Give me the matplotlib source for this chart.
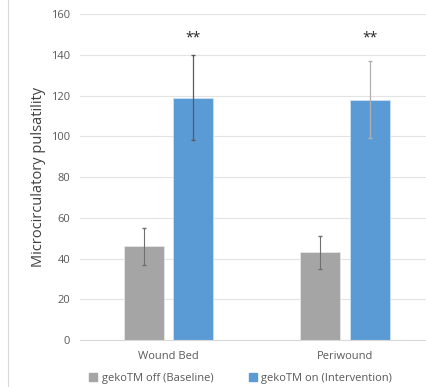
import numpy as np
import matplotlib.pyplot as plt
from matplotlib.lines import Line2D

# Datos
categorias = ['Wound Bed', 'Periwound']
off_vals = [46, 43]
off_err = [9, 8]
on_vals = [119, 118]
on_err = [21, 19]
series = ['gekoTM off (Baseline)', 'gekoTM on (Intervention)']
marca = '**'
marca_y = 148

plt.rcParams['font.family'] = ['Open Sans', 'DejaVu Sans']

fig = plt.figure(figsize=(4.26, 3.87), dpi=100)
ax = fig.add_axes([0.188, 0.1214, 0.83, 0.8424])

x = np.arange(len(categorias))
w = 0.226
d = 0.141

ax.bar(x - d, off_vals, w, color='#a5a5a5', edgecolor='#e6e6e6', lw=0.6, zorder=2)
ax.bar(x + d, on_vals, w, color='#5b9bd5', edgecolor='#cfe0f2', lw=0.6, zorder=2)

# Barras de error
ax.errorbar(x - d, off_vals, yerr=off_err, fmt='none', ecolor='#6f6f6f', elinewidth=0.8, capsize=1.5, zorder=3)
ecols = ['#5a5a5a', '#b0b0b0']
for i in range(len(categorias)):
    ax.errorbar(x[i] + d, on_vals[i], yerr=on_err[i], fmt='none', ecolor=ecols[i], elinewidth=0.9, capsize=1.5, zorder=3)
    ax.text(x[i] + d, marca_y, marca, ha='center', va='center', fontsize=10, color='#222222')

ax.set_ylim(0, 160)
ax.set_xlim(-0.5, 1.5)
ax.set_yticks(range(0, 161, 20))
ax.set_xticks(x)
ax.set_xticklabels(categorias)
ax.yaxis.grid(True, color='#e3e3e3', lw=0.8, zorder=0)
ax.set_axisbelow(True)
ax.tick_params(axis='both', length=0, labelsize=8, colors='#595959', pad=8)
ax.tick_params(axis='y', pad=7)
for s in ['top', 'right', 'left']:
    ax.spines[s].set_visible(False)
ax.spines['bottom'].set_color('#d9d9d9')
ax.set_ylabel('Microcirculatory pulsatility', fontsize=10.5, color='#404040', labelpad=4)

# Borde izquierdo del marco
fig.add_artist(Line2D([8 / 426, 8 / 426], [0, 1], color='#d9d9d9', lw=0.8))

handles = [plt.Rectangle((0, 0), 1, 1, color='#a5a5a5'), plt.Rectangle((0, 0), 1, 1, color='#5b9bd5')]
fig.legend(handles, series, loc='center', bbox_to_anchor=(0.565, 0.022), ncol=2, frameon=False,
           fontsize=8, labelcolor='#595959', handlelength=0.7, handleheight=0.7, handletextpad=0.4,
           columnspacing=3.2)

fig.savefig('out.png', dpi=100)
